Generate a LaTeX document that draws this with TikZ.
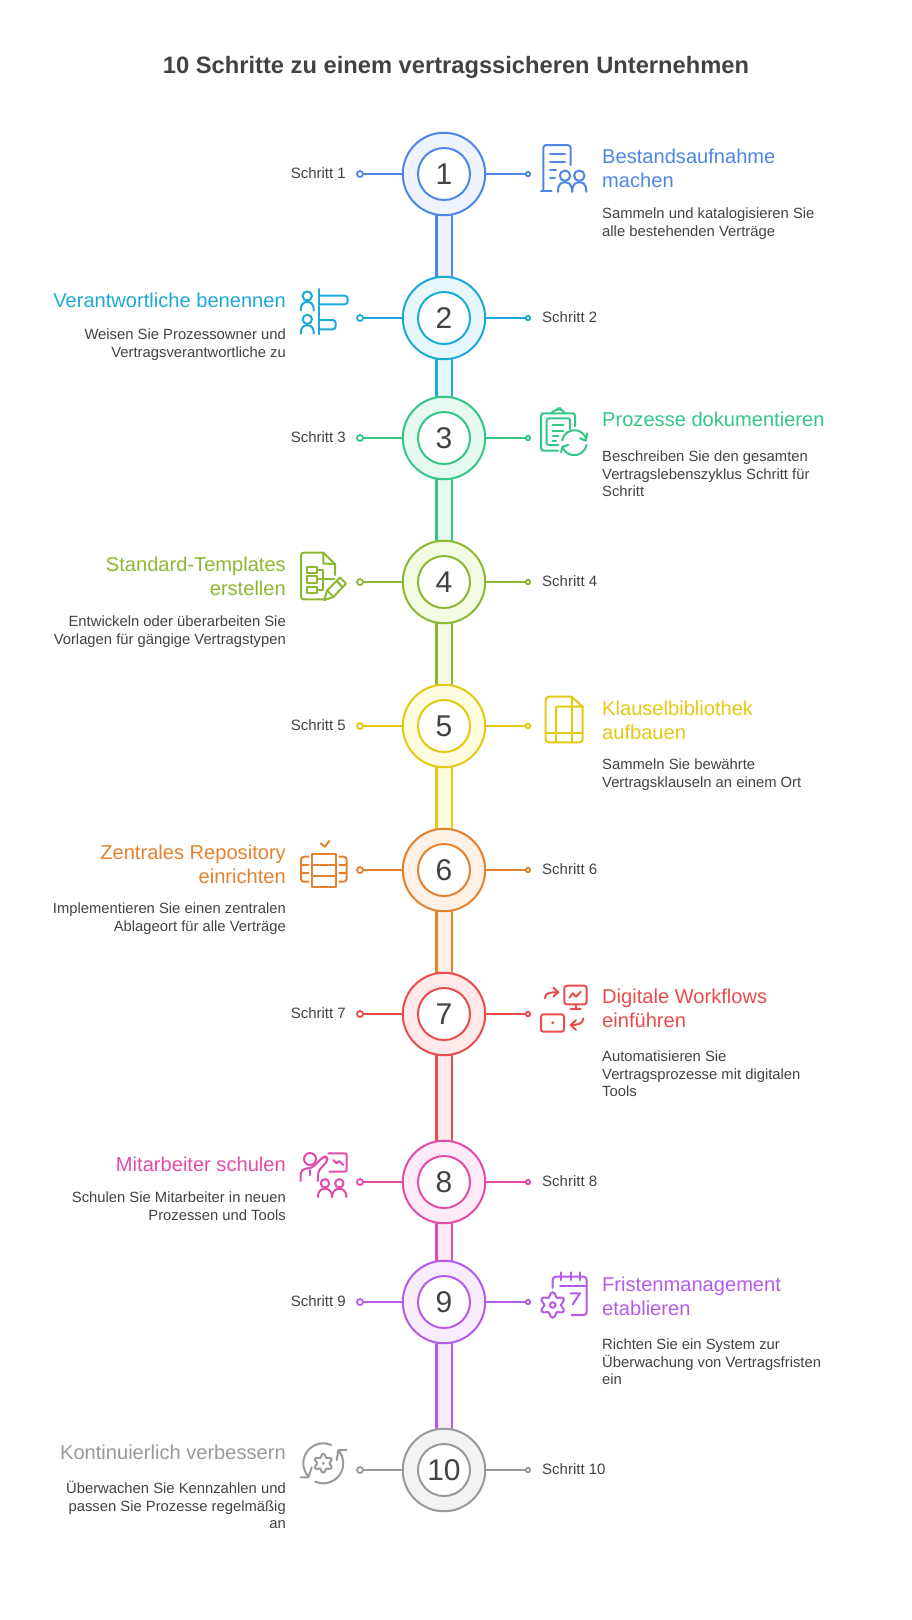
\documentclass[tikz,border=0pt]{standalone}
\usepackage{fontspec}
\setmainfont{Liberation Sans}
\usetikzlibrary{backgrounds}
\definecolor{c1}{HTML}{4E86E8}\definecolor{t1}{HTML}{EDF3FF}
\definecolor{c2}{HTML}{1CA9D8}\definecolor{t2}{HTML}{E6F8FE}
\definecolor{c3}{HTML}{35C684}\definecolor{t3}{HTML}{E6FAF1}
\definecolor{c4}{HTML}{8BB832}\definecolor{t4}{HTML}{F4FBE3}
\definecolor{c5}{HTML}{E4C912}\definecolor{t5}{HTML}{FFFBDF}
\definecolor{c6}{HTML}{E3822E}\definecolor{t6}{HTML}{FFF1E6}
\definecolor{c7}{HTML}{E84C4C}\definecolor{t7}{HTML}{FFE9E9}
\definecolor{c8}{HTML}{E34BA9}\definecolor{t8}{HTML}{FFEBF7}
\definecolor{c9}{HTML}{B55BE8}\definecolor{t9}{HTML}{F7EDFF}
\definecolor{c10}{HTML}{999999}\definecolor{t10}{HTML}{F3F3F3}
\definecolor{ink}{HTML}{424242}
\newcommand\hfirst{\rule{0pt}{18pt}}
\newcommand\dfirst{\rule{0pt}{14pt}}
\newcommand\persona[4]{% x, y head centre, head radius, half width / body
  \draw (#1,#2) circle[radius=#3];
  \draw ({#1-#4},{#2+2.35*#3+#4*.55}) .. controls ({#1-#4},{#2+#3+2.2}) and ({#1-#4*.4},{#2+#3+1.4}) .. (#1,{#2+#3+1.4})
        .. controls ({#1+#4*.4},{#2+#3+1.4}) and ({#1+#4},{#2+#3+2.2}) .. ({#1+#4},{#2+2.35*#3+#4*.55});
}
\tikzset{
  outerring/.style={circle,draw=#1,line width=2pt,minimum size=82.5pt,inner sep=0pt},
  innerring/.style={circle,draw=#1,fill=white,line width=2pt,minimum size=52pt,inner sep=0pt,text=ink,font=\fontsize{30}{30}\selectfont},
  stubdotl/.style={circle,draw=#1,fill=white,line width=1.8pt,minimum size=6pt,inner sep=0pt},
  stubdotr/.style={circle,draw=#1,fill=white,line width=1.8pt,minimum size=4.5pt,inner sep=0pt},
  stub/.style={draw=#1,line width=2pt},
  barlink/.style={draw=#1,line width=2.2pt,double distance=13pt,shorten <=-2pt,shorten >=-2pt},
  steplabel/.style={inner sep=0pt,text=ink,font=\fontsize{15}{17}\selectfont},
  headr/.style={inner sep=0pt,anchor=north west,align=left,font=\fontsize{20.1}{23.8}\selectfont},
  headl/.style={inner sep=0pt,anchor=north east,align=right,font=\fontsize{20.1}{23.8}\selectfont},
  descr/.style={inner sep=0pt,anchor=north west,align=left,text=ink,font=\fontsize{14.8}{17.8}\selectfont},
  descl/.style={inner sep=0pt,anchor=north east,align=right,text=ink,font=\fontsize{14.8}{17.8}\selectfont},
  icon/.style={line width=2pt,line cap=round,line join=round,draw=#1},
}
\begin{document}
\begin{tikzpicture}[x=1pt,y=1pt,yscale=-1]
\useasboundingbox (0,0) rectangle (912,1620);
\node[inner sep=0pt,text=ink,font=\fontsize{23.7}{28}\bfseries\selectfont] (title) at (456,67) {10 Schritte zu einem vertragssicheren Unternehmen};
% rings
\foreach \i/\yy in {1/174,2/318,3/438,4/582,5/726,6/870,7/1014,8/1182,9/1302,10/1470}{
  \node[outerring=c\i,fill=t\i] (o\i) at (444,\yy) {};
  \node[innerring=c\i] (n\i) at (444,\yy) {\i};
  \node[stubdotl=c\i] (dl\i) at (360,\yy) {};
  \node[stubdotr=c\i] (dr\i) at (528,\yy) {};
  \begin{pgfonlayer}{background}
    \draw[stub=c\i] (o\i) -- (dl\i);
    \draw[stub=c\i] (o\i) -- (dr\i);
  \end{pgfonlayer}
}
\begin{pgfonlayer}{background}
\foreach \i/\j in {1/2,2/3,3/4,4/5,5/6,6/7,7/8,8/9,9/10}{
  \draw[barlink=c\i,double=t\i] (o\i) -- (o\j);
}
\end{pgfonlayer}
% step labels
\node[steplabel,anchor=mid east] (l1) at (346,176) {Schritt 1};
\node[steplabel,anchor=mid west] (l2) at (542,320) {Schritt 2};
\node[steplabel,anchor=mid east] (l3) at (346,440) {Schritt 3};
\node[steplabel,anchor=mid west] (l4) at (542,584) {Schritt 4};
\node[steplabel,anchor=mid east] (l5) at (346,728) {Schritt 5};
\node[steplabel,anchor=mid west] (l6) at (542,872) {Schritt 6};
\node[steplabel,anchor=mid east] (l7) at (346,1016) {Schritt 7};
\node[steplabel,anchor=mid west] (l8) at (542,1184) {Schritt 8};
\node[steplabel,anchor=mid east] (l9) at (346,1304) {Schritt 9};
\node[steplabel,anchor=mid west] (l10) at (542,1472) {Schritt 10};
% headings and descriptions
\node[headr,text=c1] (h1) at (602,145) {\hfirst Bestandsaufnahme\\machen};
\node[descr] (d1) at (602,204) {\dfirst Sammeln und katalogisieren Sie\\alle bestehenden Verträge};
\node[headl,text=c2] (h2) at (286,289) {\hfirst Verantwortliche benennen};
\node[descl] (d2) at (286,325) {\dfirst Weisen Sie Prozessowner und\\Vertragsverantwortliche zu};
\node[headr,text=c3] (h3) at (602,408) {\hfirst Prozesse dokumentieren};
\node[descr] (d3) at (602,447) {\dfirst Beschreiben Sie den gesamten\\Vertragslebenszyklus Schritt für\\Schritt};
\node[headl,text=c4] (h4) at (286,553) {\hfirst Standard-Templates\\erstellen};
\node[descl] (d4) at (286,612) {\dfirst Entwickeln oder überarbeiten Sie\\Vorlagen für gängige Vertragstypen};
\node[headr,text=c5] (h5) at (602,697) {\hfirst Klauselbibliothek\\aufbauen};
\node[descr] (d5) at (602,755) {\dfirst Sammeln Sie bewährte\\Vertragsklauseln an einem Ort};
\node[headl,text=c6] (h6) at (286,841) {\hfirst Zentrales Repository\\einrichten};
\node[descl] (d6) at (286,899) {\dfirst Implementieren Sie einen zentralen\\Ablageort für alle Verträge};
\node[headr,text=c7] (h7) at (602,985) {\hfirst Digitale Workflows\\einführen};
\node[descr] (d7) at (602,1047) {\dfirst Automatisieren Sie\\Vertragsprozesse mit digitalen\\Tools};
\node[headl,text=c8] (h8) at (286,1153) {\hfirst Mitarbeiter schulen};
\node[descl] (d8) at (286,1188) {\dfirst Schulen Sie Mitarbeiter in neuen\\Prozessen und Tools};
\node[headr,text=c9] (h9) at (602,1273) {\hfirst Fristenmanagement\\etablieren};
\node[descr] (d9) at (602,1335) {\dfirst Richten Sie ein System zur\\Überwachung von Vertragsfristen\\ein};
\node[headl,text=c10] (h10) at (286,1441) {\hfirst Kontinuierlich verbessern};
\node[descl] (d10) at (286,1479) {\dfirst Überwachen Sie Kennzahlen und\\passen Sie Prozesse regelmäßig\\an};
% icon 1
\begin{scope}[shift={(530,130)},icon=c1]
\draw (11,60.7) -- (21.7,60.7);
\draw (13.3,60.7) -- (13.3,18) arc[start angle=180,end angle=270,radius=3] -- (37.7,15) arc[start angle=270,end angle=360,radius=3] -- (40.7,35);
\draw (20,24) -- (35,24) (20,31.7) -- (35,31.7) (20,40) -- (26,40) (20,47.7) -- (25,47.7);
\persona{35}{45.7}{5.2}{7}
\persona{49.3}{45.7}{5.2}{7}
\end{scope}
% icon 2
\begin{scope}[shift={(295,280)},icon=c2]
\persona{12.3}{16}{4.6}{6.5}
\persona{12.3}{39.3}{4.6}{6.5}
\draw (24.3,9) -- (24.3,54.3);
\draw[rounded corners=3pt] (24.3,15.7) -- (52.7,15.7) -- (52.7,24.3) -- (24.3,24.3);
\draw[rounded corners=3pt] (24.3,40) -- (40.7,40) -- (40.7,49.3) -- (24.3,49.3);
\end{scope}
% icon 3
\begin{scope}[shift={(530,400)},icon=c3]
\draw[rounded corners=2.5pt] (28,50.7) -- (11,50.7) -- (11,13.3) -- (45,13.3) -- (45,26);
\draw[rounded corners=2pt] (21.7,13.3) -- (21.7,11) -- (27,10.5) -- (28.5,8.3) -- (29.5,8.3) -- (31,10.5) -- (34.3,11) -- (34.3,13.3);
\draw[rounded corners=1.5pt] (28.3,45) -- (16.7,45) -- (16.7,18.3) -- (40,18.3) -- (40,29);
\draw (22.7,25) -- (33.3,25) (22.7,30.7) -- (33.3,30.7) (22.7,36) -- (28.3,36) (22.7,40.7) -- (26,40.7);
\draw ([shift={(190:12.5)}]44.3,42.7) arc[start angle=190,end angle=342,radius=12.5];
\draw ([shift={(10:12.5)}]44.3,42.7) arc[start angle=10,end angle=162,radius=12.5];
\draw (50,38.3) -- (55.6,40.7) -- (57.3,33.3);
\draw (38.3,45) -- (32.6,46.7) -- (31,52.3);
\end{scope}
% icon 4
\begin{scope}[shift={(290,540)},icon=c4]
\draw[rounded corners=2.5pt] (33,59.3) -- (11,59.3) -- (11,12.7) -- (33.3,12.7);
\draw (33.3,12.7) -- (45,24) -- (45,35);
\draw (33.3,12.7) -- (33.3,23.5) -- (45,24);
\draw (17.3,26.7) rectangle (26.7,33.3) (17.3,36) rectangle (26.7,42.7) (17.3,46.7) rectangle (26.7,52.7);
\draw (26.7,30) -- (33.3,30) -- (33.3,49.7) -- (26.7,49.7) (26.7,39.3) -- (44.3,39.3);
\draw (34.3,60) -- (37,50.5) -- (50,37.5) -- (56,43.5) -- (43.5,57) -- cycle;
\draw (46.7,41) -- (52.5,47) (37,50.5) -- (43.5,57);
\end{scope}
% icon 5
\begin{scope}[shift={(530,685)},icon=c5]
\draw[rounded corners=3pt] (41.7,11.7) -- (15.7,11.7) -- (15.7,57.3) -- (52.7,57.3) -- (52.7,21.7);
\draw (41.7,11.7) -- (52.7,21.7) -- (26,21.7) -- (26,57.3);
\draw (41.7,11.7) -- (41.7,57.3) (15.7,47.7) -- (52.7,47.7);
\end{scope}
% icon 6
\begin{scope}[shift={(290,830)},icon=c6]
\draw (21.7,24) rectangle (46,56.7) (21.7,35) -- (46,35) (21.7,45.7) -- (46,45.7);
\draw (30.7,13.3) -- (35,16.7) -- (39.3,11);
\draw[rounded corners=3pt] (18.3,26.7) -- (11,26.7) -- (11,51.7) -- (18.3,51.7);
\draw (11,35) -- (18.3,35) (11,43.3) -- (18.3,43.3);
\draw[rounded corners=3pt] (49.3,26.7) -- (56.7,26.7) -- (56.7,51.7) -- (49.3,51.7);
\draw (49.3,35) -- (56.7,35) (49.3,43.3) -- (56.7,43.3);
\end{scope}
% icon 7
\begin{scope}[shift={(530,975)},icon=c7]
\draw[rounded corners=2.5pt] (34.3,10.7) rectangle (56.7,29.3);
\draw (45.7,29.3) -- (45.7,34.3) (40.7,34.3) -- (50.7,34.3);
\draw (39.3,22.7) -- (42.7,18.3) -- (46,21.7) -- (50.7,16.7);
\draw[rounded corners=2.5pt] (11,39.3) rectangle (34,56.7);
\fill[c7] (22.7,47.7) circle[radius=1.6];
\draw (15,23.3) .. controls (15,18) and (20,17) .. (28.3,17.3);
\draw (23.3,12.7) -- (28.3,17.3) -- (23.3,21.7);
\draw (53.3,43.3) .. controls (53.3,49) and (47,50) .. (40.7,50);
\draw (46,45) -- (40.7,50) -- (46,55);
\end{scope}
% icon 8
\begin{scope}[shift={(290,1145)},icon=c8]
\draw (20,14) circle[radius=6];
\draw[rounded corners=3pt] (10.7,36) -- (10.7,27) -- (14,23.5) -- (22,23) -- (33,12) -- (36,11.5) -- (38.3,15) -- (28.3,26) -- (27.7,36);
\draw (20,25) -- (20,30);
\draw[rounded corners=2pt] (38.3,8.3) -- (56.7,8.3) -- (56.7,26.7) -- (39.3,26.7);
\draw (43.3,15) -- (46.7,18.3) -- (49.3,16) -- (53.3,20);
\persona{35}{38.3}{4.2}{7}
\persona{49.3}{38.3}{4.2}{7}
\end{scope}
% icon 9
\begin{scope}[shift={(530,1265)},icon=c9]
\draw[rounded corners=3pt] (22.7,23) -- (22.7,11.7) -- (56.7,11.7) -- (56.7,50) -- (41.7,50);
\draw (30.7,7.3) -- (30.7,15) (40.7,7.3) -- (40.7,15) (50,7.3) -- (50,15);
\draw (30,20.7) -- (56.7,20.7);
\draw (40.7,28.3) -- (50,28.3) -- (42.7,39.3);
\draw plot[smooth cycle,domain=0:350,samples=36] ({22.7+(10.5-2.3*cos(6*\x))*cos(\x)},{40+(10.5-2.3*cos(6*\x))*sin(\x)});
\draw (22.7,40) circle[radius=2.8];
\end{scope}
% icon 10
\begin{scope}[shift={(290,1430)},icon=c10]
\draw ([shift={(293:20)}]33.3,33.3) arc[start angle=293,end angle=142,radius=20];
\draw ([shift={(114:20)}]33.3,33.3) arc[start angle=114,end angle=-37,radius=20];
\draw (10.7,47.3) -- (18.3,47.3) -- (21.7,37.3);
\draw (56.7,20) -- (48.3,20) -- (46.7,30);
\draw plot[smooth cycle,domain=0:350,samples=36] ({33.3+(7.8-1.7*cos(6*\x))*cos(\x)},{33.3+(7.8-1.7*cos(6*\x))*sin(\x)});
\fill[c10] (33.3,33.3) circle[radius=1.5];
\end{scope}
\end{tikzpicture}
\end{document}
